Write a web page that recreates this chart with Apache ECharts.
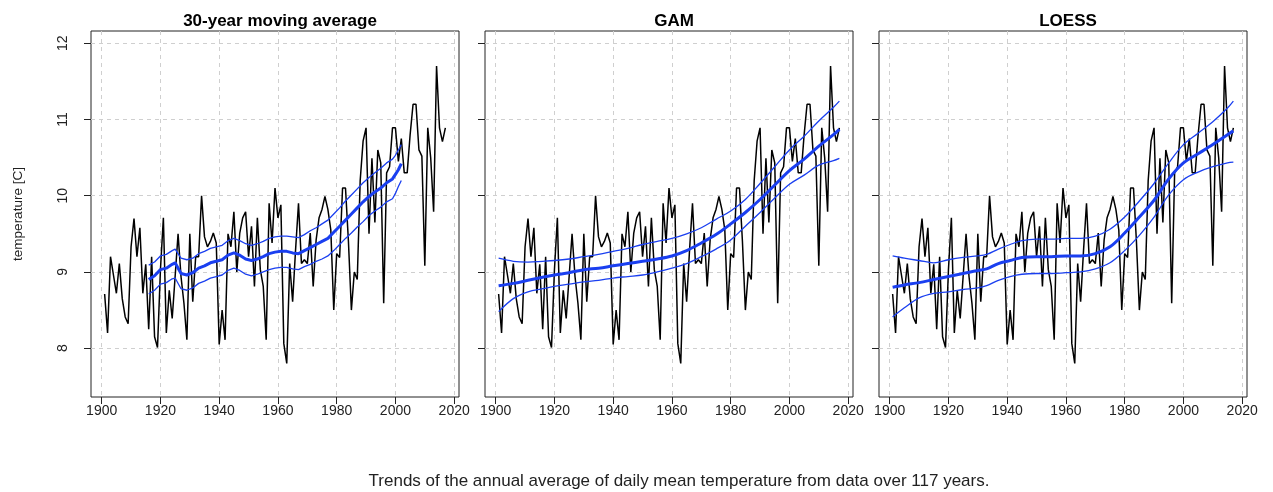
<!DOCTYPE html>
<html>
<head>
<meta charset="utf-8">
<script src="https://cdn.jsdelivr.net/npm/echarts@6/dist/echarts.min.js"></script>
<style>
  html, body { margin: 0; padding: 0; background: #fff; }
  #chart { width: 1273px; height: 492px; }
</style>
</head>
<body>
<div id="chart"></div>
<script>
// annual mean temperature, 1901-2017
const years = [
  1901, 1902, 1903, 1904, 1905, 1906, 1907, 1908, 1909, 1910,
  1911, 1912, 1913, 1914, 1915, 1916, 1917, 1918, 1919, 1920,
  1921, 1922, 1923, 1924, 1925, 1926, 1927, 1928, 1929, 1930,
  1931, 1932, 1933, 1934, 1935, 1936, 1937, 1938, 1939, 1940,
  1941, 1942, 1943, 1944, 1945, 1946, 1947, 1948, 1949, 1950,
  1951, 1952, 1953, 1954, 1955, 1956, 1957, 1958, 1959, 1960,
  1961, 1962, 1963, 1964, 1965, 1966, 1967, 1968, 1969, 1970,
  1971, 1972, 1973, 1974, 1975, 1976, 1977, 1978, 1979, 1980,
  1981, 1982, 1983, 1984, 1985, 1986, 1987, 1988, 1989, 1990,
  1991, 1992, 1993, 1994, 1995, 1996, 1997, 1998, 1999, 2000,
  2001, 2002, 2003, 2004, 2005, 2006, 2007, 2008, 2009, 2010,
  2011, 2012, 2013, 2014, 2015, 2016, 2017
]
const temps = [
  8.71, 8.20, 9.20, 8.96, 8.72, 9.11, 8.65, 8.41, 8.32, 9.33,
  9.70, 9.20, 9.58, 8.72, 9.10, 8.25, 9.20, 8.15, 8.01, 9.03,
  9.71, 8.20, 8.76, 8.39, 8.94, 9.50, 8.94, 8.59, 8.11, 9.50,
  8.61, 9.20, 9.20, 10.00, 9.46, 9.33, 9.40, 9.51, 9.38, 8.05,
  8.50, 8.11, 9.50, 9.33, 9.79, 9.00, 9.51, 9.71, 9.79, 9.20,
  9.60, 8.81, 9.71, 9.03, 8.81, 8.11, 9.90, 9.38, 10.10, 9.71,
  9.88, 8.06, 7.80, 9.11, 8.61, 9.29, 9.90, 9.11, 9.16, 9.11,
  9.51, 8.81, 9.42, 9.71, 9.82, 9.99, 9.82, 9.55, 8.50, 9.24,
  9.19, 10.10, 10.10, 9.40, 8.50, 9.00, 8.90, 10.20, 10.72, 10.89,
  9.50, 10.49, 9.65, 10.60, 10.43, 8.59, 10.30, 10.38, 10.89, 10.89,
  10.45, 10.75, 10.30, 10.30, 10.80, 11.20, 11.20, 10.60, 10.52, 9.08,
  10.89, 10.50, 9.79, 11.70, 10.89, 10.71, 10.89
]

// 30-year moving average with band
const maYears = [
  1916, 1918, 1920, 1922, 1924, 1925, 1927, 1929, 1931, 1933, 1935, 1937,
  1939, 1941, 1943, 1945, 1947, 1949, 1951, 1953, 1955, 1957, 1959, 1961,
  1963, 1965, 1967, 1969, 1971, 1973, 1975, 1977, 1979, 1981, 1983, 1985,
  1987, 1989, 1991, 1993, 1995, 1997, 1999, 2000, 2001, 2002
]
const maMid = [
  8.90, 8.95, 9.03, 9.05, 9.10, 9.12, 8.98, 8.96, 8.99, 9.05, 9.08, 9.12,
  9.14, 9.16, 9.22, 9.25, 9.22, 9.17, 9.15, 9.17, 9.20, 9.24, 9.26, 9.27,
  9.27, 9.25, 9.24, 9.28, 9.32, 9.36, 9.40, 9.44, 9.52, 9.60, 9.68, 9.76,
  9.84, 9.92, 9.99, 10.05, 10.10, 10.17, 10.22, 10.28, 10.34, 10.42
]
const maUpper = [
  9.09, 9.13, 9.21, 9.23, 9.28, 9.30, 9.18, 9.16, 9.18, 9.24, 9.27, 9.31,
  9.33, 9.35, 9.41, 9.44, 9.41, 9.37, 9.35, 9.37, 9.40, 9.44, 9.46, 9.47,
  9.47, 9.46, 9.45, 9.49, 9.54, 9.58, 9.63, 9.68, 9.76, 9.84, 9.93, 10.01,
  10.09, 10.17, 10.24, 10.30, 10.36, 10.43, 10.48, 10.53, 10.60, 10.67
]
const maLower = [
  8.71, 8.76, 8.84, 8.86, 8.91, 8.92, 8.78, 8.76, 8.79, 8.85, 8.88, 8.92,
  8.94, 8.96, 9.02, 9.05, 9.02, 8.97, 8.95, 8.97, 9.00, 9.03, 9.05, 9.06,
  9.06, 9.04, 9.03, 9.07, 9.10, 9.14, 9.17, 9.21, 9.28, 9.36, 9.44, 9.51,
  9.59, 9.66, 9.74, 9.80, 9.85, 9.92, 9.96, 10.03, 10.12, 10.20
]

// GAM fit with band
const gamYears = [
  1901, 1906, 1911, 1916, 1920, 1925, 1930, 1935, 1940, 1945, 1950, 1955, 1960,
  1965, 1970, 1975, 1980, 1985, 1990, 1995, 2000, 2005, 2010, 2015, 2017
]
const gamMid = [
  8.82, 8.85, 8.89, 8.93, 8.96, 8.99, 9.03, 9.05, 9.08, 9.11, 9.14, 9.17, 9.21,
  9.28, 9.38, 9.49, 9.63, 9.78, 9.95, 10.14, 10.33, 10.48, 10.65, 10.80, 10.87
]
const gamUpper = [
  9.18, 9.14, 9.13, 9.14, 9.15, 9.17, 9.20, 9.23, 9.27, 9.31, 9.36, 9.40, 9.44,
  9.50, 9.58, 9.69, 9.80, 9.95, 10.16, 10.38, 10.60, 10.78, 10.98, 11.16, 11.24
]
const gamLower = [
  8.48, 8.65, 8.74, 8.78, 8.81, 8.84, 8.87, 8.89, 8.92, 8.94, 8.96, 9.00, 9.05,
  9.11, 9.20, 9.30, 9.42, 9.60, 9.78, 9.97, 10.15, 10.27, 10.40, 10.46, 10.49
]

// LOESS fit with band
const loessYears = [
  1901, 1905, 1910, 1915, 1920, 1925, 1930, 1933, 1937, 1941, 1945, 1950, 1955,
  1960, 1965, 1970, 1975, 1980, 1985, 1990, 1995, 2000, 2005, 2010, 2015, 2017
]
const loessMid = [
  8.80, 8.83, 8.86, 8.90, 8.94, 8.98, 9.02, 9.04, 9.11, 9.15, 9.19, 9.20, 9.20,
  9.21, 9.21, 9.24, 9.33, 9.51, 9.72, 9.94, 10.22, 10.43, 10.55, 10.67, 10.80, 10.85
]
const loessUpper = [
  9.21, 9.18, 9.15, 9.12, 9.16, 9.19, 9.21, 9.23, 9.30, 9.36, 9.41, 9.43, 9.43,
  9.44, 9.44, 9.47, 9.56, 9.72, 9.93, 10.16, 10.43, 10.67, 10.82, 10.97, 11.15, 11.24
]
const loessLower = [
  8.41, 8.53, 8.66, 8.72, 8.74, 8.77, 8.79, 8.82, 8.89, 8.94, 8.97, 8.98, 8.98,
  8.99, 9.00, 9.04, 9.12, 9.28, 9.48, 9.72, 10.01, 10.21, 10.31, 10.38, 10.43, 10.44
]

const titles = ['30-year moving average', 'GAM', 'LOESS']
const xTicks = [1900, 1920, 1940, 1960, 1980, 2000, 2020]
const yTicks = [8, 9, 10, 11, 12]

const fits = [
  [maYears, maMid, maUpper, maLower, false],
  [gamYears, gamMid, gamUpper, gamLower, true],
  [loessYears, loessMid, loessUpper, loessLower, true]
]

function pairs(xs, ys) {
  return xs.map((x, i) => [x, ys[i]])
}

const font = 'Liberation Sans, Arial, Helvetica, sans-serif'
const blue = '#1a3ff0'
const panelLeft = [91, 485, 879]

const grid = []
const xAxis = []
const yAxis = []
const series = []
const title = []

panelLeft.forEach((left, i) => {
  grid.push({
    left: left, top: 31, width: 368, height: 366,
    show: true, borderColor: '#222', borderWidth: 1, backgroundColor: 'transparent'
  })
  title.push({
    text: titles[i],
    left: left + 184,
    top: 8,
    textAlign: 'center',
    textStyle: { fontFamily: font, fontSize: 17, fontWeight: 'bold', color: '#000' }
  })
  xAxis.push({
    type: 'value',
    gridIndex: i,
    min: 1896.36,
    max: 2021.64,
    axisLine: { show: false },
    axisTick: { show: true, length: 7, customValues: xTicks, lineStyle: { color: '#222' } },
    axisLabel: {
      customValues: xTicks, margin: 7, fontFamily: font, fontSize: 14, color: '#222',
      formatter: v => String(v), hideOverlap: false
    },
    splitLine: { show: true, lineStyle: { color: '#cfcfcf', type: [4, 4], width: 1 } }
  })
  yAxis.push({
    type: 'value',
    gridIndex: i,
    min: 7.36,
    max: 12.16,
    axisLine: { show: false },
    axisTick: { show: true, length: 7, customValues: yTicks, lineStyle: { color: '#222' } },
    axisLabel: {
      show: i === 0, customValues: yTicks, rotate: 90, margin: 21,
      fontFamily: font, fontSize: 14, color: '#222'
    },
    splitLine: { show: true, lineStyle: { color: '#cfcfcf', type: [4, 4], width: 1 } },
    name: i === 0 ? 'temperature [C]' : '',
    nameLocation: 'middle',
    nameGap: 66,
    nameRotate: 90,
    nameTextStyle: { fontFamily: font, fontSize: 13.5, color: '#222' }
  })

  series.push({
    type: 'line',
    xAxisIndex: i,
    yAxisIndex: i,
    data: pairs(years, temps),
    showSymbol: false,
    lineStyle: { color: '#000', width: 1.5 },
    z: 2
  })
  const [fx, mid, up, low, smooth] = fits[i]
  const sm = smooth ? 0.35 : false
  ;[[up, 1.3], [low, 1.3], [mid, 3]].forEach(([vals, w]) => {
    series.push({
      type: 'line',
      xAxisIndex: i,
      yAxisIndex: i,
      data: pairs(fx, vals),
      showSymbol: false,
      smooth: sm,
      lineStyle: { color: blue, width: w },
      z: 3
    })
  })
})

const chart = echarts.init(document.getElementById('chart'))
chart.setOption({
  animation: false,
  backgroundColor: '#fff',
  title: title,
  grid: grid,
  xAxis: xAxis,
  yAxis: yAxis,
  series: series,
  graphic: [{
    type: 'text',
    x: 679,
    y: 481,
    style: {
      text: 'Trends of the annual average of daily mean temperature from data over 117 years.',
      font: '17px ' + font,
      fill: '#222',
      align: 'center',
      verticalAlign: 'middle'
    }
  }]
})
</script>
</body>
</html>
